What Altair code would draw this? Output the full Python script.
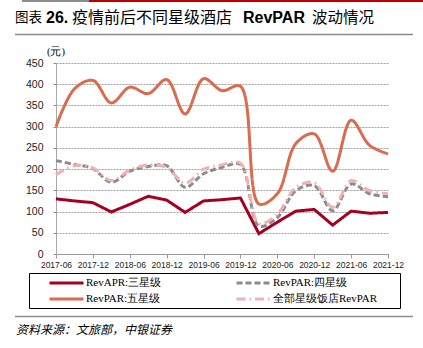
import altair as alt
import pandas as pd

quarters = ["2017-06", "2017-09", "2017-12", "2018-03", "2018-06", "2018-09", "2018-12",
            "2019-03", "2019-06", "2019-09", "2019-12", "2020-03", "2020-06", "2020-09",
            "2020-12", "2021-03", "2021-06", "2021-09", "2021-12"]
three_star = [130, 125, 121, 99, 117, 136, 127, 98, 125, 128, 132, 48, 75, 101, 105, 68, 101, 96, 98]
four_star = [220, 211, 201, 169, 195, 206, 208, 157, 189, 204, 211, 66, 86, 149, 161, 102, 165, 142, 135]
five_star = [300, 389, 409, 356, 393, 378, 411, 330, 413, 385, 395, 118, 142, 260, 283, 195, 315, 256, 236]
all_star = [187, 208, 203, 173, 198, 210, 204, 167, 200, 210, 214, 72, 94, 157, 168, 110, 173, 149, 142]

# legend order (column-major): col 1 = 三星级, 五星级 ; col 2 = 四星级, 全部
series_names = ["RevAPR:三星级", "RevPAR:五星级", "RevPAR:四星级", "全部星级饭店RevPAR"]
series_colors = ["#A50021", "#DA6B4E", "#8C8C8C", "#F2B2B2"]
series_dashes = [[1, 0], [1, 0], [6, 3], [9, 4, 1.5, 4]]
series_values = [three_star, five_star, four_star, all_star]
x_tick_labels = quarters[::2]
y_ticks = [0, 50, 100, 150, 200, 250, 300, 350, 400, 450]

rows = []
for name, vals in zip(series_names, series_values):
    for q, v in zip(quarters, vals):
        rows.append({"quarter": q, "value": v, "series": name})
df = pd.DataFrame(rows)

W, H = 332, 191
PL, PT = 56, 63

base = alt.Chart(df).encode(
    x=alt.X("quarter:O",
            scale=alt.Scale(type="point", padding=0, domain=quarters),
            axis=alt.Axis(values=x_tick_labels, title=None, labelAngle=0,
                          labelFontSize=8.5, labelPadding=2, tickSize=4,
                          domainColor="#9a9a9a", tickColor="#9a9a9a", grid=False)),
    y=alt.Y("value:Q",
            scale=alt.Scale(domain=[0, 450], nice=False),
            axis=alt.Axis(values=y_ticks, title=None, labelFontSize=10.5,
                          labelPadding=10, tickSize=3, tickColor="#8a8a8a",
                          domainColor="#a8a8a8", grid=True, gridColor="#8a8a8a",
                          gridWidth=0.8, gridDash=[2, 1])),
    color=alt.Color("series:N", title=None,
                    scale=alt.Scale(domain=series_names, range=series_colors)),
    strokeDash=alt.StrokeDash("series:N", title=None,
                              scale=alt.Scale(domain=series_names, range=series_dashes)),
)

l_three = base.transform_filter(alt.datum.series == "RevAPR:三星级").mark_line(
    strokeWidth=3, interpolate="linear")
l_four = base.transform_filter(alt.datum.series == "RevPAR:四星级").mark_line(
    strokeWidth=3, interpolate="catmull-rom")
l_five = base.transform_filter(alt.datum.series == "RevPAR:五星级").mark_line(
    strokeWidth=3, interpolate="catmull-rom")
l_all = base.transform_filter(alt.datum.series == "全部星级饭店RevPAR").mark_line(
    strokeWidth=3, interpolate="catmull-rom")


def text(t, x, y, size, weight="normal", font="Noto Sans CJK SC", style="normal",
         align="left", color="#000000"):
    return alt.Chart(pd.DataFrame({"t": [t]})).mark_text(
        align=align, baseline="middle", fontSize=size, fontWeight=weight,
        font=font, fontStyle=style, color=color
    ).encode(text="t:N", x=alt.value(x - PL), y=alt.value(y - PT))


def rule(x1, x2, y, color, width):
    return alt.Chart(pd.DataFrame({"a": [0]})).mark_rule(
        color=color, strokeWidth=width
    ).encode(x=alt.value(x1 - PL), x2=alt.value(x2 - PL), y=alt.value(y - PT))


def box(x1, x2, y1, y2):
    return alt.Chart(pd.DataFrame({"a": [0]})).mark_rect(
        fill=None, fillOpacity=0, stroke="#000000", strokeWidth=1
    ).encode(x=alt.value(x1 - PL), x2=alt.value(x2 - PL),
             y=alt.value(y1 - PT), y2=alt.value(y2 - PT))


decor = [
    rule(22, 89, 1, "#8c8c8c", 2),
    rule(89, 423, 1, "#C00000", 2),
    text("图表", 15, 18, 13.5),
    text("26.", 46, 18, 16, weight="bold", font="Liberation Sans"),
    text("疫情前后不同星级酒店", 72, 18, 16),
    text("RevPAR", 243, 18, 16, weight="bold", font="Liberation Sans"),
    text("波动情况", 312, 18, 15.5),
    rule(15, 413, 34.5, "#8c8c8c", 1.5),
    text("(元)", 56, 52, 10.5, font="Liberation Serif", align="center"),
    box(29.5, 400.5, 273.5, 308.5),
    rule(15, 413, 316.5, "#8c8c8c", 1.5),
    text("资料来源：文旅部，中银证券", 16, 330, 12, style="italic"),
]

chart = alt.layer(l_three, l_four, l_five, l_all, *decor).properties(
    width=W, height=H, autosize="none",
    padding={"left": PL, "top": PT, "right": 423 - PL - W, "bottom": 348 - PT - H},
).configure_view(stroke=None).configure_axis(
    labelFont="Liberation Sans", labelColor="#222222"
).configure_legend(
    orient="none", legendX=29 - PL, legendY=273 - PT, columns=2,
    padding=3,
    symbolType="stroke", symbolSize=1156, symbolStrokeWidth=3,
    symbolOffset=16, labelOffset=1, columnPadding=57, rowPadding=2,
    clipHeight=14,
    labelFont="Liberation Serif", labelFontSize=11, labelColor="#000000",
    labelLimit=300,
)

chart.save("out.html", embed_options={"renderer": "svg", "actions": False})
